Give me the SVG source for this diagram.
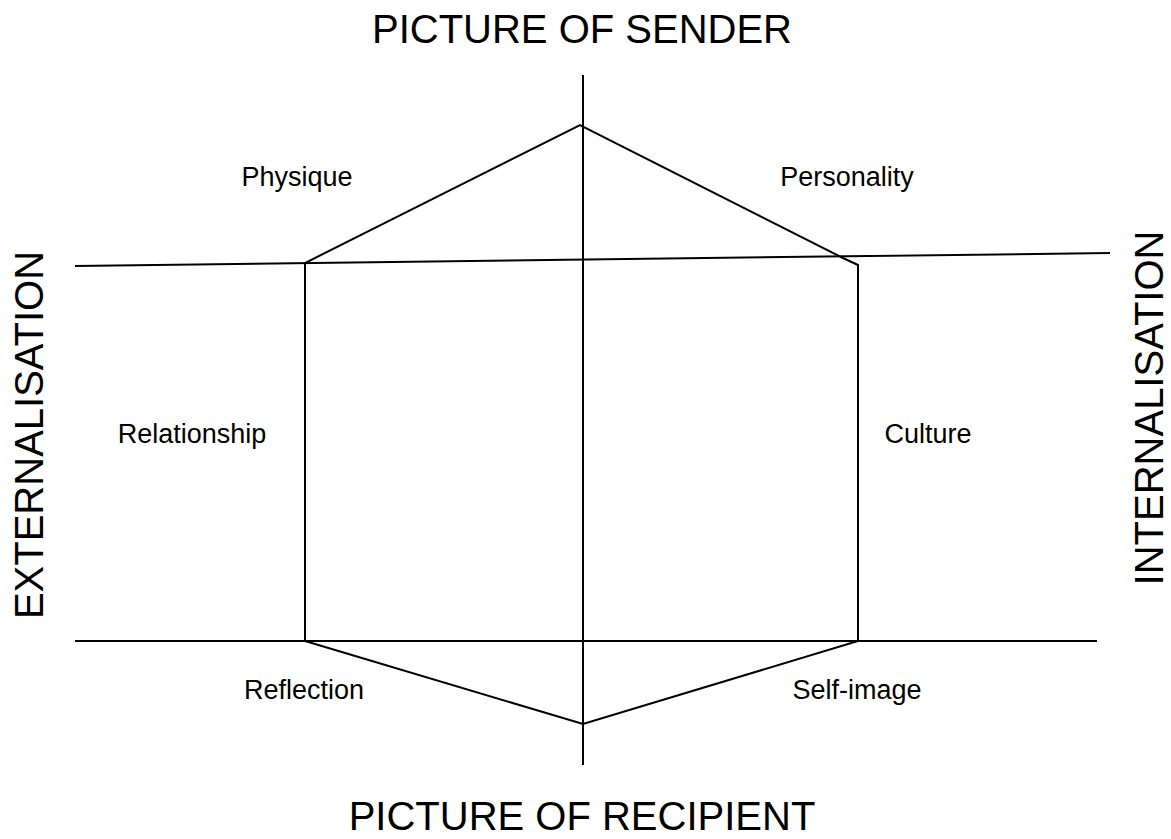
<svg xmlns="http://www.w3.org/2000/svg" width="1171" height="839" viewBox="0 0 1171 839">
  <style>
    .ln { stroke: #000; stroke-width: 2; fill: none; stroke-linejoin: miter; }
    .lbl { font-family: "Liberation Sans", Arial, sans-serif; font-size: 27px; fill: #000; text-anchor: middle; }
    .axis { font-family: "Liberation Sans", Arial, sans-serif; font-size: 40px; fill: #000; text-anchor: middle; }
  </style>
  <rect width="1171" height="839" fill="#fff"/>

  <!-- axes and hexagon outline -->
  <g id="connectors">
    <line class="ln" x1="583" y1="75" x2="583" y2="765"/>
    <line class="ln" x1="75" y1="266" x2="1110" y2="253"/>
    <line class="ln" x1="75" y1="641" x2="1097" y2="641"/>
    <polyline class="ln" points="305,641 305,263 580,125 843,258 858,265 858,641 583,724 305,641"/>
  </g>

  <!-- axis titles -->
  <g id="sender"><text class="axis" x="582" y="43">PICTURE OF SENDER</text></g>
  <g id="recipient"><text class="axis" x="582" y="830">PICTURE OF RECIPIENT</text></g>
  <g id="externalisation"><text class="axis" transform="translate(43,435) rotate(-90)">EXTERNALISATION</text></g>
  <g id="internalisation"><text class="axis" transform="translate(1163,408) rotate(-90)">INTERNALISATION</text></g>

  <!-- facet labels -->
  <g id="physique"><text class="lbl" x="297" y="186">Physique</text></g>
  <g id="personality"><text class="lbl" x="847" y="186">Personality</text></g>
  <g id="relationship"><text class="lbl" x="192" y="443">Relationship</text></g>
  <g id="culture"><text class="lbl" x="928" y="443">Culture</text></g>
  <g id="reflection"><text class="lbl" x="304" y="699">Reflection</text></g>
  <g id="self-image"><text class="lbl" x="857" y="699">Self-image</text></g>
</svg>
